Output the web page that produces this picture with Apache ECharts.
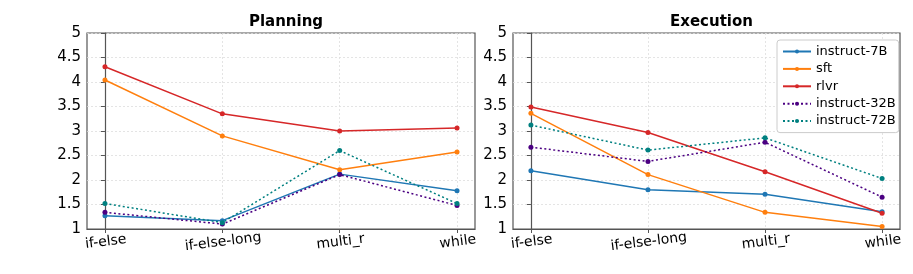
<!DOCTYPE html>
<html><head><meta charset="utf-8">
<script src="https://cdn.jsdelivr.net/npm/echarts@6/dist/echarts.min.js"></script>
<style>html,body{margin:0;padding:0;background:#fff}#c{width:913px;height:274px}</style>
</head><body><div id="c"></div>
<script>
const categories = ['if-else', 'if-else-long', 'multi_r', 'while'];
const yTicks = [1, 1.5, 2, 2.5, 3, 3.5, 4, 4.5, 5];
const seriesNames = ['instruct-7B', 'sft', 'rlvr', 'instruct-32B', 'instruct-72B'];
const panelTitles = ['Planning', 'Execution'];

const planning_instruct7B = [1.27, 1.17, 2.12, 1.78];
const planning_sft = [4.04, 2.90, 2.21, 2.57];
const planning_rlvr = [4.31, 3.35, 3.00, 3.06];
const planning_instruct32B = [1.34, 1.10, 2.11, 1.48];
const planning_instruct72B = [1.52, 1.13, 2.60, 1.52];

const execution_instruct7B = [2.19, 1.80, 1.71, 1.35];
const execution_sft = [3.36, 2.11, 1.34, 1.05];
const execution_rlvr = [3.49, 2.97, 2.17, 1.32];
const execution_instruct32B = [2.67, 2.38, 2.77, 1.65];
const execution_instruct72B = [3.12, 2.61, 2.86, 2.03];

const panels = [
  [planning_instruct7B, planning_sft, planning_rlvr, planning_instruct32B, planning_instruct72B],
  [execution_instruct7B, execution_sft, execution_rlvr, execution_instruct32B, execution_instruct72B]
];
const colors = ['#1f77b4', '#ff7f0e', '#d62728', '#4b0082', '#008080'];
const dashed = [false, false, false, true, true];

const font = 'DejaVu Sans';
const grids = [
  {left: 87, top: 33, width: 388, height: 196},
  {left: 513, top: 33, width: 387, height: 196}
];
const catIdx = categories.map((c, i) => i);
const pad = 0.153;

const option = {
  animation: false,
  backgroundColor: '#fff',
  title: panelTitles.map((t, i) => ({
    text: t, left: grids[i].left + grids[i].width / 2, top: 10, textAlign: 'center',
    textStyle: {fontFamily: font, fontWeight: 'bold', fontSize: 15, color: '#000'}
  })),
  grid: grids.map(g => Object.assign({show: true, borderColor: '#555', borderWidth: 1.2, backgroundColor: 'transparent'}, g)),
  legend: {
    data: seriesNames, orient: 'vertical', left: 777, top: 40,
    padding: [5, 3, 5, 5], itemGap: 4.4, itemWidth: 28, itemHeight: 5,
    backgroundColor: '#fff', borderColor: '#ccc', borderWidth: 1, borderRadius: 3,
    textStyle: {fontFamily: font, fontSize: 13, color: '#000'}
  },
  xAxis: grids.map((g, i) => ({
    type: 'value', gridIndex: i, min: -pad, max: categories.length - 1 + pad,
    axisLine: {show: true, lineStyle: {color: '#555', width: 1.2}},
    axisTick: {show: true, customValues: catIdx, length: 4, lineStyle: {color: '#555'}},
    axisLabel: {
      customValues: catIdx, formatter: v => categories[Math.round(v)],
      rotate: 7, align: 'center', verticalAlign: 'top', margin: 6,
      fontFamily: font, fontSize: 14, color: '#000'
    },
    splitLine: {show: true, lineStyle: {color: '#ddd', type: [2, 2], width: 0.8}}
  })),
  yAxis: grids.map((g, i) => ({
    type: 'value', gridIndex: i, min: yTicks[0], max: yTicks[yTicks.length - 1], interval: 0.5,
    axisLine: {show: true, lineStyle: {color: '#555', width: 1.2}},
    axisTick: {show: true, length: 4, lineStyle: {color: '#555'}},
    axisLabel: {margin: 6, fontFamily: font, fontSize: 15, color: '#000', formatter: v => String(v)},
    splitLine: {show: true, lineStyle: {color: '#ddd', type: [2, 2], width: 0.8}}
  })),
  series: []
};

panels.forEach((panel, p) => {
  panel.forEach((vals, s) => {
    option.series.push({
      type: 'line', name: seriesNames[s], xAxisIndex: p, yAxisIndex: p,
      data: vals.map((v, i) => [catIdx[i], v]),
      symbol: 'circle', symbolSize: 5,
      itemStyle: {color: colors[s]},
      lineStyle: {color: colors[s], width: 1.5, type: dashed[s] ? [2, 2.5] : 'solid'}
    });
  });
});

const chart = echarts.init(document.getElementById('c'), null, {renderer: 'canvas'});
chart.setOption(option);
</script></body></html>
